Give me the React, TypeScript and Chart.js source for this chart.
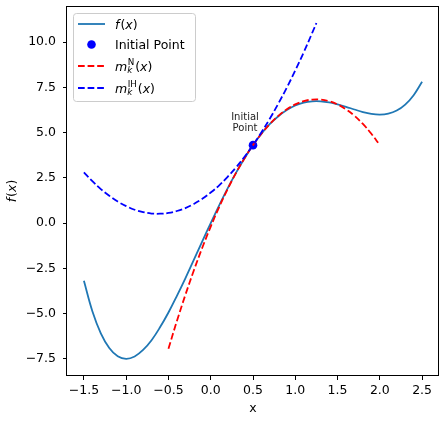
import React, { useEffect, useRef } from 'react';
import { Chart, registerables } from 'chart.js';
Chart.register(...registerables);

// f(x)
const fX = [-1.5, -1.4, -1.3, -1.2, -1.1, -1.0, -0.9, -0.8, -0.7, -0.6, -0.5, -0.4, -0.3, -0.2, -0.1, 0.0,
  0.1, 0.2, 0.3, 0.4, 0.5, 0.6, 0.7, 0.8, 0.9, 1.0, 1.1, 1.2, 1.3, 1.4, 1.5, 1.6, 1.7, 1.8, 1.9, 2.0,
  2.1, 2.2, 2.3, 2.4, 2.5];
const fY = [-3.19, -4.87, -6.09, -6.90, -7.36, -7.50, -7.37, -7.01, -6.47, -5.76, -4.94, -4.02, -3.05, -2.03, -1.01, 0.00,
  0.98, 1.92, 2.79, 3.59, 4.31, 4.94, 5.48, 5.91, 6.25, 6.50, 6.66, 6.73, 6.73, 6.67, 6.56, 6.43, 6.28, 6.14, 6.04, 6.00,
  6.05, 6.22, 6.55, 7.07, 7.81];

// Initial point
const initX = [0.5];
const initY = [4.31];

// m_k^N(x)
const nX = [-0.5, -0.4, -0.3, -0.2, -0.1, 0.0, 0.1, 0.2, 0.3, 0.4, 0.5, 0.6, 0.7, 0.8, 0.9, 1.0,
  1.1, 1.2, 1.3, 1.4, 1.5, 1.6, 1.7, 1.8, 1.9, 2.0];
const nY = [-6.94, -5.41, -3.97, -2.62, -1.36, -0.19, 0.89, 1.88, 2.78, 3.59, 4.31, 4.94, 5.48, 5.93, 6.29, 6.56,
  6.74, 6.83, 6.83, 6.74, 6.56, 6.29, 5.93, 5.48, 4.94, 4.31];

// m_k^IH(x)
const ihX = [-1.5, -1.4, -1.3, -1.2, -1.1, -1.0, -0.9, -0.8, -0.7, -0.6, -0.5, -0.4, -0.3, -0.2, -0.1, 0.0,
  0.1, 0.2, 0.3, 0.4, 0.5, 0.6, 0.7, 0.8, 0.9, 1.0, 1.1, 1.2, 1.25];
const ihY = [2.81, 2.32, 1.88, 1.51, 1.19, 0.94, 0.74, 0.61, 0.53, 0.52, 0.56, 0.67, 0.83, 1.06, 1.34, 1.69,
  2.09, 2.56, 3.08, 3.67, 4.31, 5.02, 5.78, 6.61, 7.49, 8.44, 9.44, 10.51, 11.06];

const xTicks = [-1.5, -1.0, -0.5, 0.0, 0.5, 1.0, 1.5, 2.0, 2.5];
const yTicks = [-7.5, -5.0, -2.5, 0.0, 2.5, 5.0, 7.5, 10.0];

const FS = 12.5;
const FONT = '"DejaVu Sans", "Liberation Sans", sans-serif';
const up = (s: number) => `${s}px ${FONT}`;
const it = (s: number) => `italic ${s}px ${FONT}`;
const BLUE_LINE = '#1f77b4';
const DASH = [6.7, 2.9];

const fmt = (v: number) => (v < 0 ? '\u2212' : '') + Math.abs(v).toFixed(1);

function run(ctx: CanvasRenderingContext2D, x: number, y: number, text: string, font: string) {
  ctx.font = font;
  ctx.fillText(text, x, y);
  return x + ctx.measureText(text).width;
}

function drawFx(ctx: CanvasRenderingContext2D, x: number, y: number) {
  x = run(ctx, x, y, 'f', it(FS));
  x = run(ctx, x + 1, y, '(', up(FS));
  x = run(ctx, x, y, 'x', it(FS));
  run(ctx, x, y, ')', up(FS));
}

function drawM(ctx: CanvasRenderingContext2D, x: number, y: number, sup: string) {
  x = run(ctx, x, y, 'm', it(FS));
  const s = FS * 0.7;
  ctx.font = it(s);
  ctx.fillText('k', x, y + FS * 0.22);
  const wk = ctx.measureText('k').width;
  ctx.font = up(s);
  ctx.fillText(sup, x + 0.5, y - FS * 0.42);
  const ws = ctx.measureText(sup).width + 0.5;
  x += Math.max(wk, ws) + 1;
  x = run(ctx, x, y, '(', up(FS));
  x = run(ctx, x, y, 'x', it(FS));
  run(ctx, x, y, ')', up(FS));
}

const mplPlugin = {
  id: 'mplDecor',
  afterDraw(chart: any) {
    const { ctx, chartArea } = chart;
    const { left, top, right, bottom } = chartArea;
    const xs = chart.scales.x;
    const ys = chart.scales.y;
    ctx.save();
    // frame
    const xl = Math.round(left) - 0.5;
    const xr = Math.round(right) - 0.5;
    const yt = Math.round(top) + 0.5;
    const yb = Math.round(bottom) - 0.5;
    ctx.strokeStyle = '#000';
    ctx.lineWidth = 1;
    ctx.strokeRect(xl, yt, xr - xl, yb - yt);

    // annotation
    const px = xs.getPixelForValue(initX[0]);
    const py = ys.getPixelForValue(initY[0]);
    ctx.fillStyle = '#222';
    ctx.font = up(10);
    ctx.textAlign = 'center';
    ctx.textBaseline = 'middle';
    ctx.fillText('Initial', px - 8, py - 28);
    ctx.fillText('Point', px - 8, py - 16.5);

    // legend
    const lx = left + 6.5;
    const ly = top + 7.5;
    ctx.beginPath();
    (ctx as any).roundRect(lx, ly, 122, 88, 3);
    ctx.fillStyle = 'rgba(255,255,255,0.8)';
    ctx.fill();
    ctx.strokeStyle = '#cccccc';
    ctx.lineWidth = 1;
    ctx.stroke();

    const sx0 = lx + 4.5;
    const sx1 = lx + 31.5;
    const tx = lx + 41.5;
    const rows = [ly + 10.5, ly + 31, ly + 52.5, ly + 74.5];

    ctx.lineWidth = 1.8;
    ctx.strokeStyle = BLUE_LINE;
    ctx.setLineDash([]);
    ctx.beginPath(); ctx.moveTo(sx0, rows[0]); ctx.lineTo(sx1, rows[0]); ctx.stroke();

    ctx.fillStyle = '#0000ff';
    ctx.beginPath(); ctx.arc((sx0 + sx1) / 2, rows[1], 4.3, 0, Math.PI * 2); ctx.fill();

    ctx.setLineDash(DASH);
    ctx.strokeStyle = '#ff0000';
    ctx.beginPath(); ctx.moveTo(sx0, rows[2]); ctx.lineTo(sx1, rows[2]); ctx.stroke();
    ctx.strokeStyle = '#0000ff';
    ctx.beginPath(); ctx.moveTo(sx0, rows[3]); ctx.lineTo(sx1, rows[3]); ctx.stroke();
    ctx.setLineDash([]);

    ctx.fillStyle = '#000';
    ctx.textAlign = 'left';
    ctx.textBaseline = 'alphabetic';
    const b = 4.6;
    drawFx(ctx, tx, rows[0] + b);
    run(ctx, tx, rows[1] + b, 'Initial Point', up(FS));
    drawM(ctx, tx, rows[2] + b, 'N');
    drawM(ctx, tx, rows[3] + b, 'IH');

    // y axis title with mathtext-like styling
    ctx.translate(13, (top + bottom) / 2);
    ctx.rotate(-Math.PI / 2);
    ctx.textBaseline = 'middle';
    const parts: [string, string][] = [['f', it(FS)], ['(', up(FS)], ['x', it(FS)], [')', up(FS)]];
    let w = 0;
    for (const [t, f] of parts) { ctx.font = f; w += ctx.measureText(t).width; }
    let cx = -w / 2 - 0.5;
    for (const [t, f] of parts) {
      ctx.font = f;
      ctx.fillText(t, cx, 0);
      cx += ctx.measureText(t).width + (t === 'f' ? 1 : 0);
    }
    ctx.restore();
  },
};

const noPad = (s: any) => {
  s.paddingTop = 0;
  s.paddingBottom = 0;
  s.paddingLeft = 0;
  s.paddingRight = 0;
};

export default function App() {
  const ref = useRef<HTMLCanvasElement | null>(null);
  useEffect(() => {
    if (!ref.current) return;
    const toXY = (xs: number[], ys: number[]) => xs.map((x, i) => ({ x, y: ys[i] }));
    const chart = new Chart(ref.current, {
      type: 'line',
      data: {
        datasets: [
          { label: 'f(x)', data: toXY(fX, fY), borderColor: BLUE_LINE, borderWidth: 1.8, pointRadius: 0, tension: 0.4, fill: false, order: 4 },
          { label: 'Initial Point', data: toXY(initX, initY), showLine: false, pointRadius: 4.3, pointBackgroundColor: '#0000ff', pointBorderWidth: 0, borderColor: '#0000ff', order: 3 },
          { label: 'mN', data: toXY(nX, nY), borderColor: '#ff0000', borderWidth: 1.8, borderDash: DASH, pointRadius: 0, tension: 0.4, fill: false, order: 2 },
          { label: 'mIH', data: toXY(ihX, ihY), borderColor: '#0000ff', borderWidth: 1.8, borderDash: DASH, pointRadius: 0, tension: 0.4, fill: false, order: 1 },
        ],
      },
      options: {
        animation: false,
        responsive: false,
        devicePixelRatio: 1,
        layout: { autoPadding: false, padding: { left: 0, top: 6, right: 7, bottom: 30 } },
        plugins: { legend: { display: false }, tooltip: { enabled: false } },
        scales: {
          x: {
            type: 'linear',
            min: -1.7,
            max: 2.7,
            afterBuildTicks: (s: any) => { s.ticks = xTicks.map((v) => ({ value: v })); },
            afterFit: (s: any) => { s.height = 42; noPad(s); },
            ticks: { font: { family: FONT, size: FS }, color: '#000', padding: 3, maxRotation: 0, autoSkip: false, callback: (v: any) => fmt(Number(v)) },
            grid: { drawOnChartArea: false, drawTicks: true, tickLength: 4, tickColor: '#000', tickWidth: 1 },
            border: { display: false },
            title: { display: true, text: 'x', font: { family: FONT, size: FS }, color: '#000', padding: { top: 0, bottom: 1.5 } },
          },
          y: {
            type: 'linear',
            min: -8.45,
            max: 12.0,
            afterBuildTicks: (s: any) => { s.ticks = yTicks.map((v) => ({ value: v })); },
            afterFit: (s: any) => { s.width = 67; noPad(s); },
            ticks: { font: { family: FONT, size: FS }, color: '#000', padding: 7, autoSkip: false, callback: (v: any) => fmt(Number(v)) },
            grid: { drawOnChartArea: false, drawTicks: true, tickLength: 4, tickColor: '#000', tickWidth: 1 },
            border: { display: false },
            title: { display: false },
          },
        },
      },
      plugins: [mplPlugin],
    } as any);
    return () => chart.destroy();
  }, []);
  return (
    <div style={{ position: 'absolute', left: 0, top: 0, width: 446, height: 448, background: '#fff' }}>
      <canvas ref={ref} width={446} height={448} style={{ display: 'block' }} />
    </div>
  );
}
